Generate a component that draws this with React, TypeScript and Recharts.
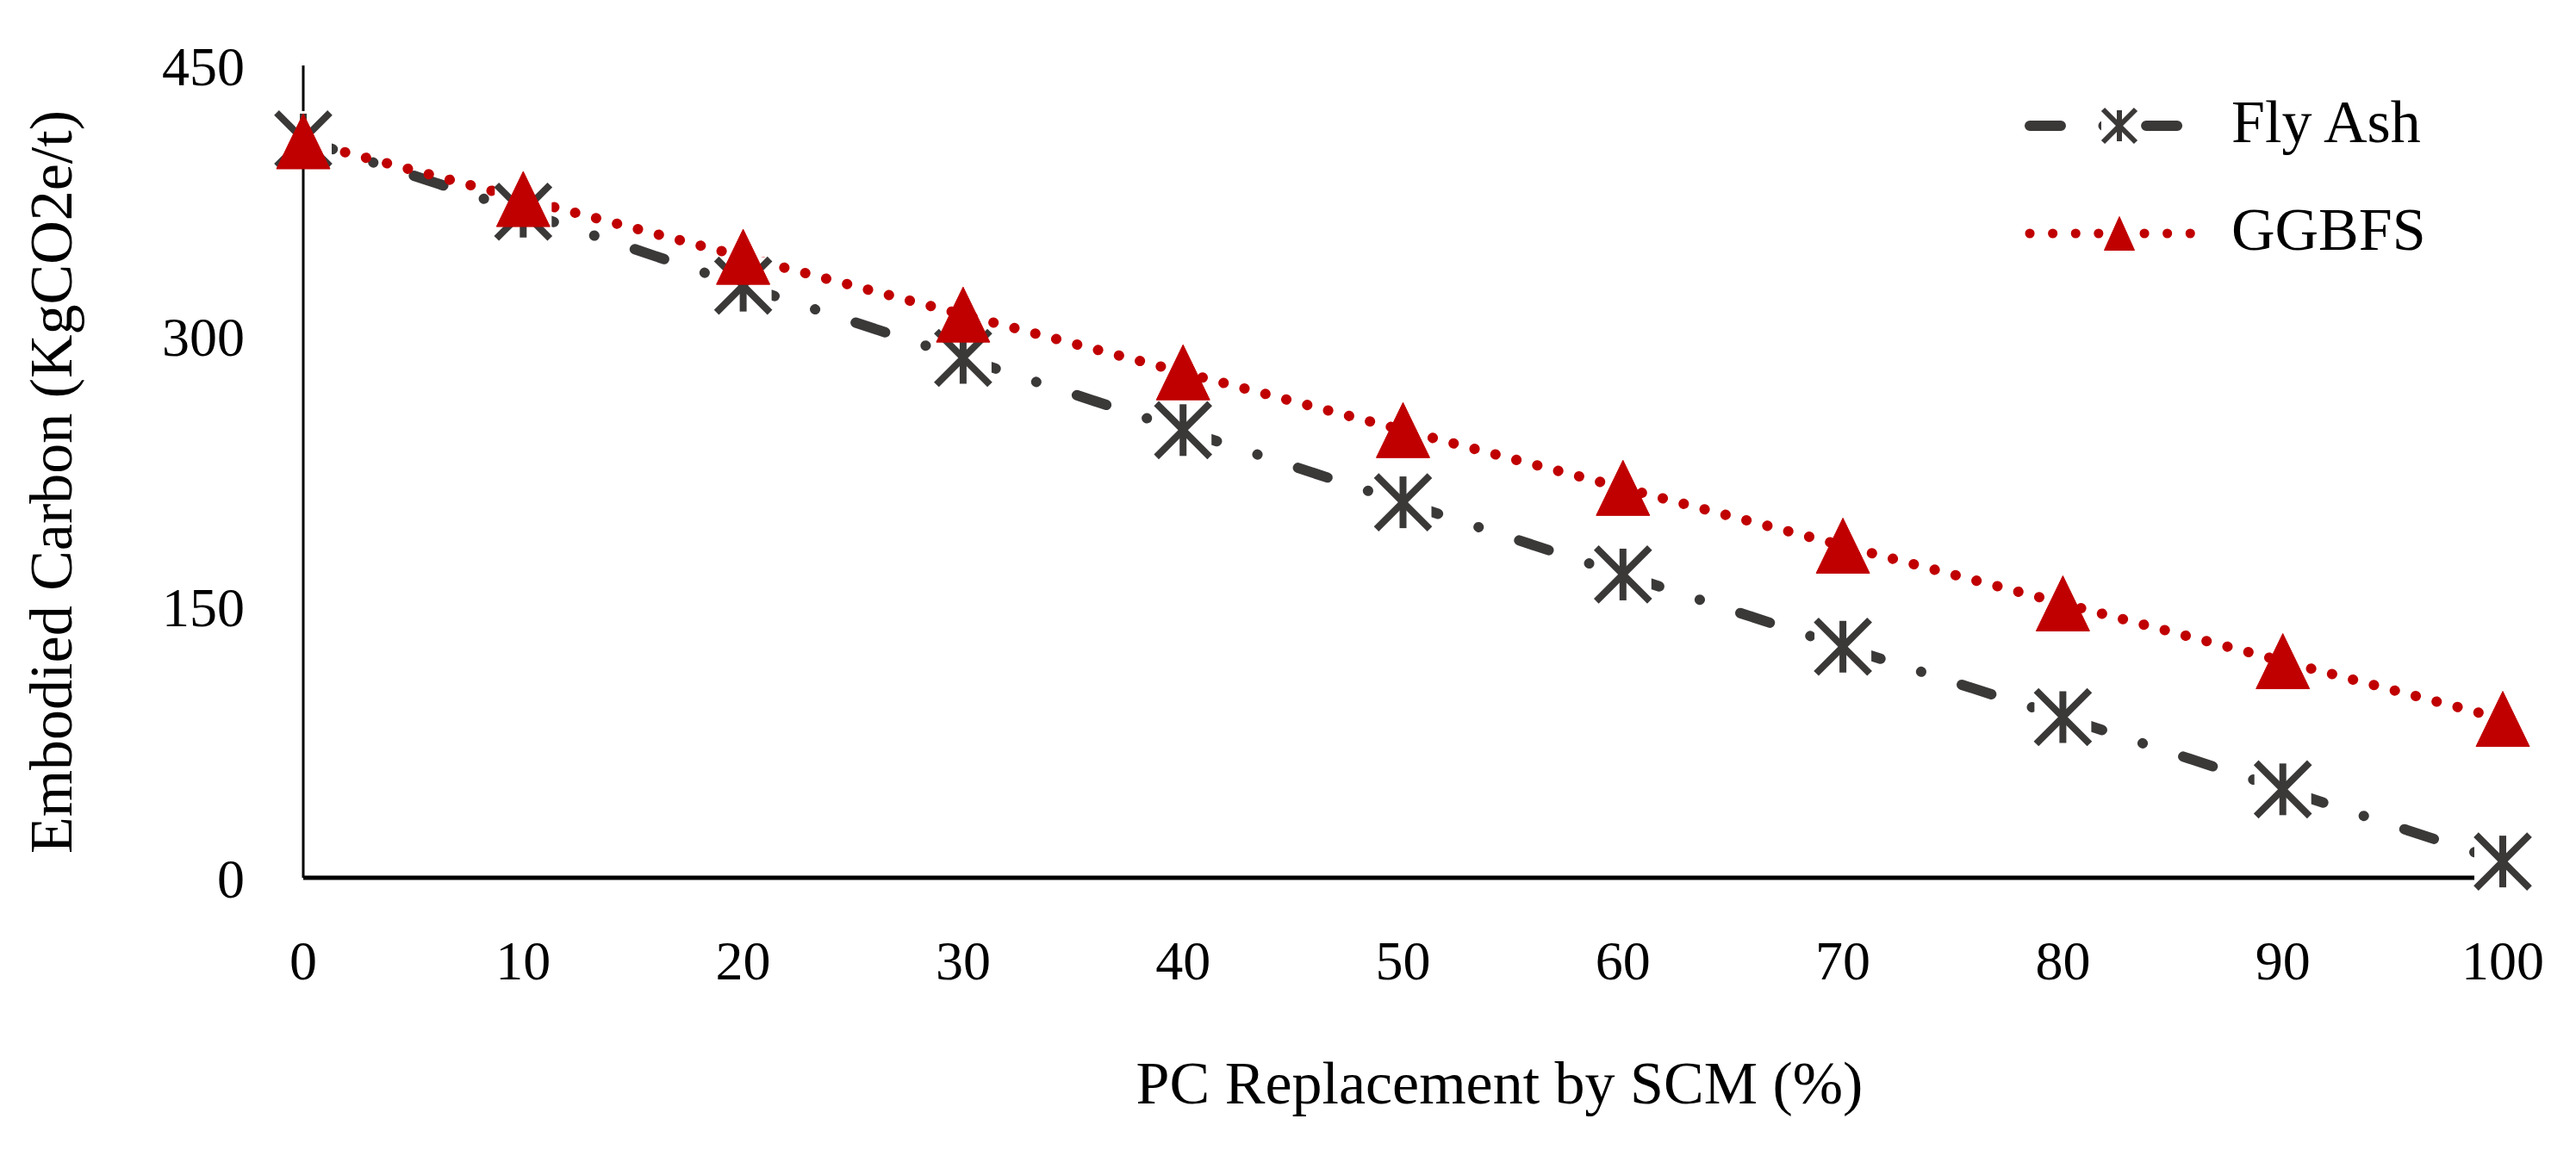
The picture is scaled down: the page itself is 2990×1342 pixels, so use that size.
import React from "react";
import { LineChart, Line, XAxis, YAxis, Legend, Label } from "recharts";

// ---- data ----
const pcReplacement = [0, 10, 20, 30, 40, 50, 60, 70, 80, 90, 100];
const flyAsh = [409, 369, 328, 288, 248, 208, 168, 128, 89, 49, 9];
const ggbfs = [408, 376, 344, 312, 280, 248, 216, 184, 152, 120, 88];
const yTicks = [0, 150, 300, 450];
const xTicks = pcReplacement;
const seriesNames = { flyAsh: "Fly Ash", ggbfs: "GGBFS" };
const xTitle = "PC Replacement by SCM (%)";
const yTitle = "Embodied Carbon (KgCO2e/t)";

const data = pcReplacement.map((x, i) => ({ x, flyAsh: flyAsh[i], ggbfs: ggbfs[i] }));

const GRAY = "#3B3838";
const RED = "#C00000";
const FONT = "'Liberation Serif', 'Times New Roman', serif";

function Asterisk({ cx, cy, r, sw }: { cx: number; cy: number; r: number; sw: number }) {
  return (
    <g>
      <rect x={cx - r - 2} y={cy - r - 2} width={2 * r + 4} height={2 * r + 4} fill="#ffffff" />
      <line x1={cx} y1={cy - r + 1} x2={cx} y2={cy + r - 1} stroke={GRAY} strokeWidth={sw} />
      <line x1={cx - r} y1={cy - r} x2={cx + r} y2={cy + r} stroke={GRAY} strokeWidth={sw} />
      <line x1={cx + r} y1={cy - r} x2={cx - r} y2={cy + r} stroke={GRAY} strokeWidth={sw} />
    </g>
  );
}

function Triangle({ cx, cy, w, h }: { cx: number; cy: number; w: number; h: number }) {
  const pts = `${cx},${cy - h / 2} ${cx + w / 2},${cy + h / 2} ${cx - w / 2},${cy + h / 2}`;
  return <polygon points={pts} fill={RED} stroke={RED} strokeWidth={1} />;
}

const renderAsteriskDot = (props: any) => {
  const { cx, cy, index } = props;
  if (cx == null || cy == null) return <g key={`a-${index}`} />;
  return (
    <g key={`a-${index}`}>
      <Asterisk cx={cx} cy={cy} r={31} sw={8} />
    </g>
  );
};

const renderTriangleDot = (props: any) => {
  const { cx, cy, index } = props;
  if (cx == null || cy == null) return <g key={`t-${index}`} />;
  return (
    <g key={`t-${index}`}>
      <Triangle cx={cx} cy={cy} w={62} h={64} />
    </g>
  );
};

const LegendContent = (props: any) => {
  const payload = props.payload || [];
  return (
    <svg width={600} height={240} style={{ overflow: "visible" }}>
      {payload.map((item: any, i: number) => {
        const y = i === 0 ? 56 : 181;
        const isFly = item.dataKey === "flyAsh";
        return (
          <g key={`leg-${i}`}>
            {isFly ? (
              <>
                <line
                  x1={26}
                  y1={y}
                  x2={207}
                  y2={y}
                  stroke={GRAY}
                  strokeWidth={12}
                  strokeLinecap="round"
                  strokeDasharray="36 49.5 0.1 49.5"
                />
                <Asterisk cx={130} cy={y} r={19} sw={6} />
              </>
            ) : (
              <>
                <line
                  x1={26}
                  y1={y}
                  x2={232}
                  y2={y}
                  stroke={RED}
                  strokeWidth={11}
                  strokeLinecap="round"
                  strokeDasharray="0.1 26.5"
                />
                <Triangle cx={130} cy={y} w={35} h={39} />
              </>
            )}
            <text x={260} y={y + 19} fontFamily={FONT} fontSize={70} fill="#000">
              {item.value}
            </text>
          </g>
        );
      })}
    </svg>
  );
};

export default function App() {
  return (
    <div style={{ position: "absolute", left: 0, top: 0, width: 2990, height: 1342, background: "#fff" }}>
      <LineChart
        width={2990}
        height={1342}
        data={data}
        margin={{ top: 76, right: 85, bottom: 123, left: 192 }}
      >
        <XAxis
          dataKey="x"
          type="number"
          domain={[0, 100]}
          ticks={xTicks}
          interval={0}
          height={200}
          axisLine={{ stroke: "#000", strokeWidth: 5 }}
          tickLine={false}
          tickSize={0}
          tickMargin={73}
          tick={{ fontFamily: FONT, fontSize: 64, fill: "#000" }}
        >
          <Label
            content={(p: any) => {
              const vb = p.viewBox || { x: 352, y: 1019, width: 2553, height: 200 };
              return (
                <text
                  x={vb.x + vb.width / 2 + 112}
                  y={vb.y + 262}
                  textAnchor="middle"
                  fontFamily={FONT}
                  fontSize={70}
                  fill="#000"
                >
                  {xTitle}
                </text>
              );
            }}
          />
        </XAxis>
        <YAxis
          type="number"
          domain={[0, 450]}
          ticks={yTicks}
          interval={0}
          width={160}
          axisLine={{ stroke: "#000", strokeWidth: 3 }}
          tickLine={false}
          tickSize={0}
          tickMargin={68}
          tick={{ fontFamily: FONT, fontSize: 64, fill: "#000" }}
        >
          <Label
            content={(p: any) => {
              const vb = p.viewBox || { x: 192, y: 76, width: 160, height: 943 };
              const cx = vb.x - 109;
              const cy = vb.y + vb.height / 2 + 12;
              return (
                <text
                  x={cx}
                  y={cy}
                  transform={`rotate(-90, ${cx}, ${cy})`}
                  textAnchor="middle"
                  fontFamily={FONT}
                  fontSize={70}
                  fill="#000"
                >
                  {yTitle}
                </text>
              );
            }}
          />
        </YAxis>
        <Legend
          layout="vertical"
          align="center"
          verticalAlign="middle"
          wrapperStyle={{ left: 2330, top: 90, width: 600, height: 240 }}
          content={LegendContent}
        />
        <Line
          type="linear"
          dataKey="flyAsh"
          name={seriesNames.flyAsh}
          stroke={GRAY}
          strokeWidth={12}
          strokeLinecap="round"
          strokeDasharray="36 49.5 0.1 49.5"
          dot={renderAsteriskDot}
          activeDot={false}
          isAnimationActive={false}
        />
        <Line
          type="linear"
          dataKey="ggbfs"
          name={seriesNames.ggbfs}
          stroke={RED}
          strokeWidth={12}
          strokeLinecap="round"
          strokeDasharray="0.1 25"
          dot={renderTriangleDot}
          activeDot={false}
          isAnimationActive={false}
        />
      </LineChart>
    </div>
  );
}
